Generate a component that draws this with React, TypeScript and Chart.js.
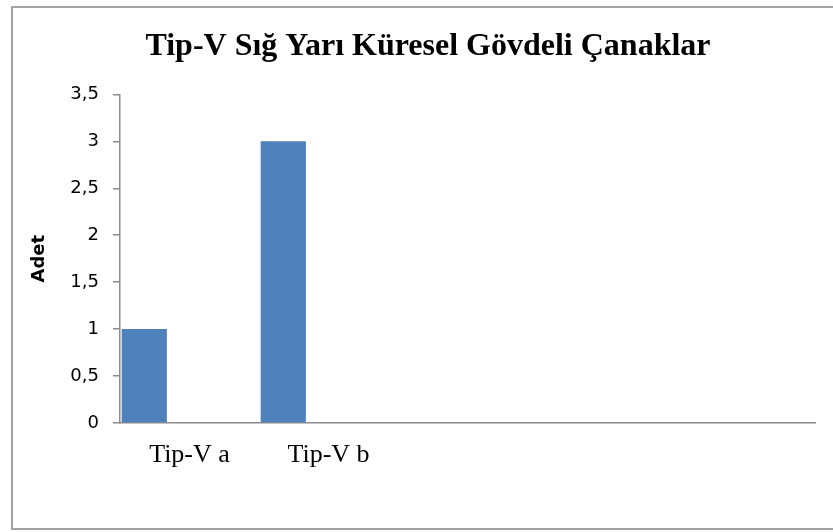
import React, { useEffect, useRef } from "react";
import { Chart, registerables } from "chart.js";

Chart.register(...registerables);

const categories = ["Tip-V a", "Tip-V b", "", "", ""];
const seriesA = [1, 3, null, null, null];
const seriesB = [null, null, null, null, null];
const seriesC = [null, null, null, null, null];
const yTicksMin = 0;
const yTicksMax = 3.5;
const yStep = 0.5;
const titleText = "Tip-V Sığ Yarı Küresel Gövdeli Çanaklar";
const yTitle = "Adet";

export default function App() {
  const ref = useRef<HTMLCanvasElement | null>(null);
  useEffect(() => {
    if (!ref.current) return;
    const barCommon = {
      backgroundColor: "#4F81BD",
      borderWidth: 0,
      categoryPercentage: 0.976,
      barPercentage: 1,
    };
    const chart = new Chart(ref.current, {
      type: "bar",
      data: {
        labels: categories,
        datasets: [
          { label: "A", data: seriesA, ...barCommon },
          { label: "B", data: seriesB, ...barCommon },
          { label: "C", data: seriesC, ...barCommon },
        ],
      },
      options: {
        animation: false,
        responsive: true,
        maintainAspectRatio: false,
        layout: { padding: { left: 28, right: 24, top: 0, bottom: 0 } },
        plugins: {
          legend: { display: false },
          tooltip: { enabled: false },
          title: {
            display: true,
            text: titleText,
            color: "#000",
            font: { family: "Liberation Serif", size: 32, weight: "bold", lineHeight: 1.2 },
            padding: { top: 20, bottom: 28 },
          },
        },
        scales: {
          x: {
            grid: { display: true, drawOnChartArea: false, drawTicks: false },
            border: { display: true, color: "#8c8c8c", width: 1.5 },
            ticks: {
              color: "#000",
              padding: 17,
              maxRotation: 0,
              autoSkip: false,
              font: { family: "Liberation Serif", size: 26, lineHeight: 1.2 },
            },
            afterFit: (s: any) => {
              s.height = 105;
            },
          },
          y: {
            min: yTicksMin,
            max: yTicksMax,
            grid: {
              display: true,
              drawOnChartArea: false,
              drawTicks: true,
              tickLength: 7,
              color: "#8c8c8c",
              lineWidth: 1.5,
            },
            border: { display: true, color: "#8c8c8c", width: 1.5 },
            ticks: {
              stepSize: yStep,
              color: "#000",
              padding: 14,
              font: { family: "DejaVu Sans", size: 18 },
              callback: (v: any) => String(v).replace(".", ","),
            },
            title: {
              display: true,
              text: yTitle,
              color: "#000",
              font: { family: "DejaVu Sans", size: 18, weight: "bold", lineHeight: 1.2 },
              padding: { top: -12, bottom: 0 },
            },
            afterFit: (s: any) => {
              s.width = 79;
            },
          },
        },
      },
    });
    return () => chart.destroy();
  }, []);
  return (
    <div
      style={{
        position: "fixed",
        left: 11,
        top: 6,
        width: 830,
        height: 524,
        border: "2px solid #a3a3a3",
        boxSizing: "border-box",
        background: "#fff",
      }}
    >
      <canvas ref={ref} />
    </div>
  );
}
